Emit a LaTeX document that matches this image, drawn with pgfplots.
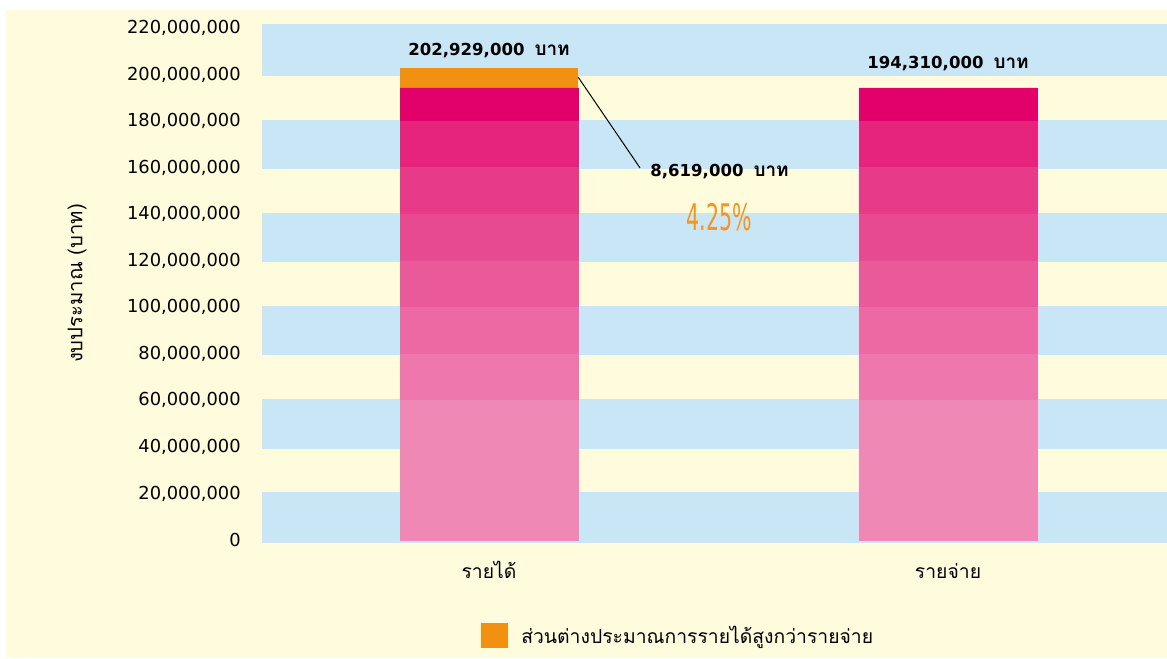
\documentclass[border=0pt]{standalone}
\usepackage{fontspec}
\setmainfont{DejaVu Sans}
\newfontfamily\thaifont[Script=Thai]{Loma}
\usepackage{pgfplots}
\pgfplotsset{compat=1.18}

\definecolor{cream}{HTML}{FFFBDC}
\definecolor{bandblue}{HTML}{C9E6F6}
\definecolor{diffor}{HTML}{F29111}
\definecolor{pctor}{HTML}{F7941D}
\definecolor{pk1}{HTML}{F088B6}
\definecolor{pk2}{HTML}{EE78AD}
\definecolor{pk3}{HTML}{EC69A4}
\definecolor{pk4}{HTML}{EA5A9B}
\definecolor{pk5}{HTML}{E84A92}
\definecolor{pk6}{HTML}{E73A88}
\definecolor{pk7}{HTML}{E6237D}
\definecolor{pk8}{HTML}{E2006B}

\pgfplotsset{
    geom/.style={
        at={(196.5pt,86.25pt)}, anchor=south west,
        scale only axis, width=678.75pt, height=389.25pt,
        xmin=-0.4946, xmax=1.4771,
        ymin=-1289000, ymax=221750000,
    },
    thai/.style={font=\thaifont\fontsize{14.5pt}{17pt}\selectfont},
    seg/.style={fill=#1, draw=#1, line width=0.3pt, forget plot},
}
% bold value label: digits in DejaVu, unit in Loma
\newcommand{\baht}[1]{#1\hspace{7.5pt}{\thaifont\fontsize{14.2pt}{16pt}\selectfont บาท}}

\begin{document}
\begin{tikzpicture}
\useasboundingbox (0,0) rectangle (875.25pt,493.5pt);
\fill[white] (0,0) rectangle (875.25pt,493.5pt);
\fill[cream] (4.5pt,0) rectangle (875.25pt,486pt);

% background bands
\begin{axis}[geom, hide axis]
\fill[bandblue] (axis cs:-0.4946,-1289000) rectangle (axis cs:1.4771,20700000);
\fill[bandblue] (axis cs:-0.4946,39300000) rectangle (axis cs:1.4771,60700000);
\fill[bandblue] (axis cs:-0.4946,79300000) rectangle (axis cs:1.4771,100700000);
\fill[bandblue] (axis cs:-0.4946,119300000) rectangle (axis cs:1.4771,140700000);
\fill[bandblue] (axis cs:-0.4946,159300000) rectangle (axis cs:1.4771,180700000);
\fill[bandblue] (axis cs:-0.4946,199300000) rectangle (axis cs:1.4771,221750000);
\end{axis}

\begin{axis}[
    geom,
    ybar stacked, bar width=133.5pt,
    axis line style={draw=none},
    major tick length=0pt,
    xtick={0,1},
    xticklabels={รายได้, รายจ่าย},
    xticklabel style={thai, anchor=base, inner sep=0pt, yshift=-26.25pt},
    ytick={0,20000000,40000000,60000000,80000000,100000000,
           120000000,140000000,160000000,180000000,200000000,220000000},
    scaled y ticks=false,
    yticklabel style={font=\fontsize{13.4pt}{16pt}\selectfont,
        anchor=east, inner sep=0pt, xshift=-15.75pt,
        /pgf/number format/fixed,
        /pgf/number format/1000 sep={,},
        /pgf/number format/assume math mode=true},
    ylabel={งบประมาณ (บาท)},
    ylabel style={font=\thaifont\fontsize{15.2pt}{17pt}\selectfont,
        at={(axis description cs:-0.2044,0.5)}, anchor=center},
    legend style={at={(axis description cs:0.242,-0.178)}, anchor=west,
        draw=none, fill=none, inner sep=0pt, thai},
]

% pink layers of the bars (revenue / expense = 194,310,000)
\addplot[seg=pk1] coordinates {(0,60000000) (1,60000000)};
\addplot[seg=pk2] coordinates {(0,20000000) (1,20000000)};
\addplot[seg=pk3] coordinates {(0,20000000) (1,20000000)};
\addplot[seg=pk4] coordinates {(0,20000000) (1,20000000)};
\addplot[seg=pk5] coordinates {(0,20000000) (1,20000000)};
\addplot[seg=pk6] coordinates {(0,20000000) (1,20000000)};
\addplot[seg=pk7] coordinates {(0,20000000) (1,20000000)};
\addplot[seg=pk8] coordinates {(0,14310000) (1,14310000)};
% surplus
\addplot[fill=diffor, draw=none,
    legend image code/.code={\fill[diffor] (0pt,-9.5pt) rectangle (20pt,9.5pt); \path (28pt,0pt);}]
    coordinates {(0,8619000) (1,0)};
\addlegendentry{ส่วนต่างประมาณการรายได้สูงกว่ารายจ่าย}

% annotations
\node[anchor=base, inner sep=0pt, yshift=8.85pt,
    font=\bfseries\fontsize{12.4pt}{14pt}\selectfont]
    at (axis cs:0,202929000) {\baht{202,929,000}};
\node[anchor=base, inner sep=0pt, yshift=14.85pt,
    font=\bfseries\fontsize{12.4pt}{14pt}\selectfont]
    at (axis cs:1,194310000) {\baht{194,310,000}};
\draw[black, line width=0.75pt] (axis cs:0.1939,199000000) -- (axis cs:0.329,159900000);
\node[anchor=base, inner sep=0pt,
    font=\bfseries\fontsize{12.4pt}{14pt}\selectfont]
    at (axis cs:0.5022,156400000) {\baht{8,619,000}};
\node[anchor=base, inner sep=0pt, text=pctor,
    font=\fontsize{27.5pt}{30pt}\selectfont]
    at (axis cs:0.5022,133200000) {\scalebox{0.56}[1]{4.25\%}};
\end{axis}
\end{tikzpicture}
\end{document}
